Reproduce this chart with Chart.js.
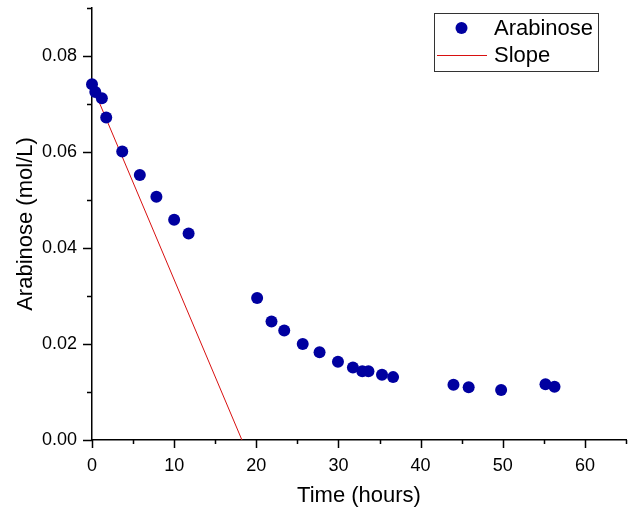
<!DOCTYPE html>
<html>
<head>
<meta charset="utf-8">
<script src="https://cdn.jsdelivr.net/npm/chart.js@4/dist/chart.umd.min.js"></script>
<style>
  html, body { margin: 0; padding: 0; background: #fff; }
  #wrap { width: 632px; height: 509px; }
</style>
</head>
<body>
<div id="wrap"><canvas id="chart"></canvas></div>
<script>
// --- data ---
const timeHours = [0, 0.4, 1.2, 1.73, 3.68, 5.82, 7.84, 10.0, 11.76, 20.1, 21.85, 23.4, 25.65, 27.7,
                   29.94, 31.76, 32.9, 33.65, 35.3, 36.65, 44.0, 45.85, 49.8, 55.2, 56.3];
const arabinose = [0.0741, 0.0725, 0.0712, 0.0672, 0.0601, 0.0552, 0.0507, 0.0459, 0.0430, 0.0296,
                   0.0247, 0.0228, 0.0200, 0.0183, 0.0163, 0.0151, 0.0143, 0.0143, 0.0136, 0.0131,
                   0.0115, 0.0110, 0.0104, 0.0116, 0.0111];
const slopeX = [0, 18.25];
const slopeY = [0.0739, 0];
const xLabelTicks = [0, 10, 20, 30, 40, 50, 60];
const yLabelTicks = [0, 0.02, 0.04, 0.06, 0.08];

const FONT = "'Liberation Sans', Arial, sans-serif";
const BLUE = '#0000a0';
const RED = '#d81010';

const toPoints = (xs, ys) => xs.map((x, i) => ({ x, y: ys[i] }));
const isLabelled = (list, v) => list.some(t => Math.abs(t - v) < 1e-9);

/* tick marks: long for labelled ticks, short for the minor ones */
const tickMarks = {
  id: 'tickMarks',
  afterDraw(chart) {
    const ctx = chart.ctx;
    const { x, y } = chart.scales;
    ctx.save();
    ctx.strokeStyle = '#000';
    ctx.lineWidth = 1.5;
    ctx.beginPath();
    y.ticks.forEach(t => {
      const py = Math.round(y.getPixelForValue(t.value)) + 0.5;
      const len = isLabelled(yLabelTicks, t.value) ? 9 : 5;
      ctx.moveTo(y.right - len, py);
      ctx.lineTo(y.right, py);
    });
    x.ticks.forEach(t => {
      const px = Math.round(x.getPixelForValue(t.value)) + 0.5;
      const len = isLabelled(xLabelTicks, t.value) ? 8 : 4;
      ctx.moveTo(px, x.top);
      ctx.lineTo(px, x.top + len);
    });
    ctx.stroke();
    ctx.restore();
  }
};

/* boxed legend in the upper right corner */
const boxLegend = {
  id: 'boxLegend',
  afterDraw(chart) {
    const ctx = chart.ctx;
    const ds = chart.data.datasets;
    const bx = 434, by = 13, bw = 164, bh = 58;
    ctx.save();
    ctx.fillStyle = '#fff';
    ctx.fillRect(bx, by, bw, bh);
    ctx.strokeStyle = '#333';
    ctx.lineWidth = 1;
    ctx.strokeRect(bx + 0.5, by + 0.5, bw, bh);

    ctx.fillStyle = ds[0].backgroundColor;
    ctx.beginPath();
    ctx.arc(461.5, 28, 6, 0, Math.PI * 2);
    ctx.fill();

    ctx.strokeStyle = ds[1].borderColor;
    ctx.beginPath();
    ctx.moveTo(437, 55.5);
    ctx.lineTo(487, 55.5);
    ctx.stroke();

    ctx.fillStyle = '#000';
    ctx.font = '22px ' + FONT;
    ctx.textBaseline = 'middle';
    ctx.fillText(ds[0].label, 494, 29);
    ctx.fillText(ds[1].label, 494, 56);
    ctx.restore();
  }
};

new Chart(document.getElementById('chart'), {
  type: 'scatter',
  data: {
    datasets: [
      {
        label: 'Arabinose',
        data: toPoints(timeHours, arabinose),
        backgroundColor: BLUE,
        borderColor: BLUE,
        pointRadius: 6,
        pointHoverRadius: 6,
        borderWidth: 0,
        clip: false
      },
      {
        label: 'Slope',
        type: 'line',
        data: toPoints(slopeX, slopeY),
        borderColor: RED,
        backgroundColor: RED,
        borderWidth: 1,
        pointRadius: 0,
        fill: false,
        tension: 0
      }
    ]
  },
  options: {
    responsive: true,
    maintainAspectRatio: false,
    animation: false,
    layout: { padding: { top: 8, right: 4, left: 0, bottom: 0 } },
    plugins: {
      legend: { display: false },
      tooltip: { enabled: false }
    },
    scales: {
      x: {
        type: 'linear',
        min: 0,
        max: 65,
        grid: { display: false },
        border: { display: true, color: '#000', width: 1.5 },
        ticks: {
          stepSize: 5,
          autoSkip: false,
          maxRotation: 0,
          padding: 7,
          color: '#000',
          font: { family: FONT, size: 18 },
          callback: v => isLabelled(xLabelTicks, v) ? String(v) : ''
        },
        title: {
          display: true,
          text: 'Time (hours)',
          color: '#000',
          font: { family: FONT, size: 22 },
          padding: { top: 1, bottom: 0 }
        },
        afterFit: s => { s.height = 69; s.paddingLeft = 0; s.paddingRight = 0; }
      },
      y: {
        type: 'linear',
        min: 0,
        max: 0.09,
        grid: { display: false },
        border: { display: true, color: '#000', width: 1.5 },
        ticks: {
          stepSize: 0.01,
          autoSkip: false,
          padding: 7,
          color: '#000',
          font: { family: FONT, size: 18 },
          callback: v => isLabelled(yLabelTicks, v) ? v.toFixed(2) : ''
        },
        title: {
          display: true,
          text: 'Arabinose (mol/L)',
          color: '#000',
          font: { family: FONT, size: 22 },
          padding: { top: 13, bottom: 0 }
        },
        afterFit: s => { s.width = 92; s.paddingTop = 0; s.paddingBottom = 0; }
      }
    }
  },
  plugins: [tickMarks, boxLegend]
});
</script>
</body>
</html>
